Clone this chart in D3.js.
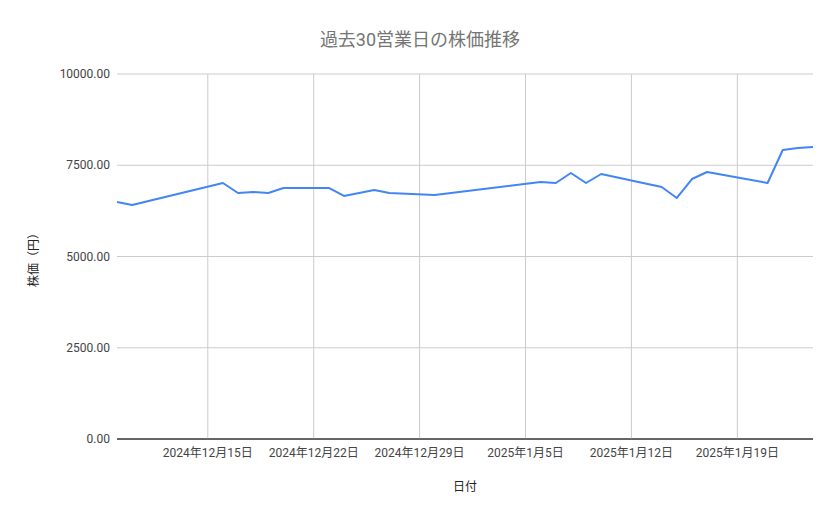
<!DOCTYPE html>
<html><head><meta charset="utf-8">
<script src="https://cdn.jsdelivr.net/npm/d3@7"></script>
<style>body{margin:0;background:#fff}text{font-family:Roboto,"Noto Sans CJK JP",sans-serif}</style>
</head><body><svg width="839" height="519"></svg>
<script>
const dates = ["2024-12-09","2024-12-10","2024-12-16","2024-12-17","2024-12-18","2024-12-19","2024-12-20",
  "2024-12-23","2024-12-24","2024-12-26","2024-12-27","2024-12-30","2025-01-06","2025-01-07","2025-01-08",
  "2025-01-09","2025-01-10","2025-01-14","2025-01-15","2025-01-16","2025-01-17","2025-01-21","2025-01-22",
  "2025-01-23","2025-01-24"];
const prices = [6493,6411,7014,6740,6767,6740,6877,6877,6658,6822,6740,6685,7041,7014,7288,7014,7260,6904,
  6603,7123,7315,7014,7918,7973,8000];
const yTicks = [0,2500,5000,7500,10000];
const xTicks = ["2024-12-15","2024-12-22","2024-12-29","2025-01-05","2025-01-12","2025-01-19"];

const svg = d3.select("svg");
const parse = d3.utcParse("%Y-%m-%d");
const data = dates.map((d, i) => ({ date: parse(d), v: prices[i] }));
const L = 117, R = 813, T = 74, B = 439;
const x = d3.scaleUtc().domain([parse("2024-12-09"), parse("2025-01-24")]).range([L, R]);
const y = d3.scaleLinear().domain([0, 10000]).range([B, T]);

svg.append("g").selectAll("line").data(yTicks).enter().append("line")
  .attr("x1", L).attr("x2", R).attr("y1", d => y(d)).attr("y2", d => y(d))
  .attr("stroke", d => d === 0 ? "#333" : "#ccc");
svg.append("g").selectAll("line").data(xTicks).enter().append("line")
  .attr("x1", d => x(parse(d))).attr("x2", d => x(parse(d))).attr("y1", T).attr("y2", B)
  .attr("stroke", "#ccc");
svg.append("line").attr("x1", L).attr("x2", R).attr("y1", B).attr("y2", B).attr("stroke", "#333");

svg.append("g").selectAll("text").data(yTicks).enter().append("text")
  .attr("x", 110).attr("y", d => y(d) + 4).attr("text-anchor", "end")
  .attr("font-size", 12).attr("fill", "#444").text(d => d3.format(".2f")(d));
svg.append("g").selectAll("text").data(xTicks).enter().append("text")
  .attr("x", d => x(parse(d))).attr("y", 457).attr("text-anchor", "middle")
  .attr("font-size", 12).attr("fill", "#444")
  .text(d => { const t = parse(d); return `${t.getUTCFullYear()}年${t.getUTCMonth() + 1}月${t.getUTCDate()}日`; });

svg.append("path").datum(data)
  .attr("d", d3.line().x(d => x(d.date)).y(d => y(d.v)))
  .attr("fill", "none").attr("stroke", "#4285F4").attr("stroke-width", 2).attr("stroke-linejoin", "round");

svg.append("text").attr("x", 420).attr("y", 46).attr("text-anchor", "middle")
  .attr("font-size", 18).attr("fill", "#757575").text("過去30営業日の株価推移");
svg.append("text").attr("x", 465).attr("y", 491).attr("text-anchor", "middle")
  .attr("font-size", 12).attr("fill", "#222").text("日付");
svg.append("text").attr("transform", "translate(38,257) rotate(-90)").attr("text-anchor", "middle")
  .attr("font-size", 12).attr("fill", "#222").text("株価（円）");
</script></body></html>
